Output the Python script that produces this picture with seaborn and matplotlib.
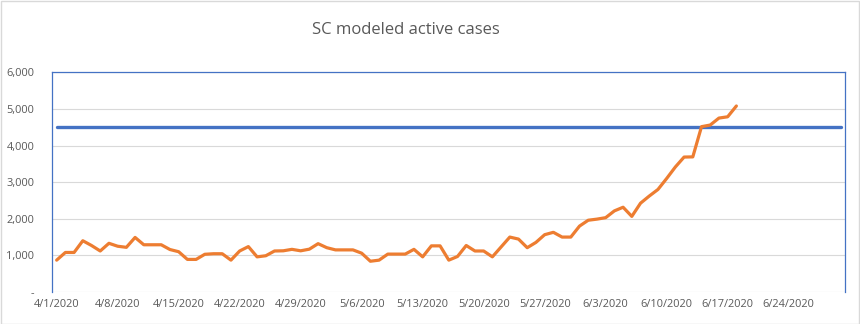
import matplotlib
matplotlib.use("Agg")
import matplotlib.pyplot as plt
from matplotlib.patches import Rectangle
import seaborn as sns
import pandas as pd

# ---- data ----
title = "SC modeled active cases"
start_date = "2020-04-01"
active_cases = [
    870, 1080, 1080, 1400, 1270, 1120, 1330, 1250, 1220, 1490,
    1290, 1290, 1290, 1160, 1100, 890, 890, 1030, 1045, 1045,
    870, 1120, 1240, 960, 990, 1120, 1125, 1165, 1125, 1170,
    1320, 1210, 1150, 1150, 1150, 1060, 840, 870, 1035, 1035,
    1035, 1165, 960, 1260, 1260, 870, 970, 1270, 1120, 1120,
    960, 1230, 1500, 1445, 1210, 1355, 1565, 1630, 1500, 1500,
    1800, 1960, 1990, 2030, 2215, 2315, 2065, 2425, 2620, 2800,
    3100, 3415, 3685, 3690, 4515, 4560, 4750, 4785, 5080,
]
threshold_dates = ["2020-04-01", "2020-06-30"]
threshold_values = [4500, 4500]
y_ticks = [0, 1000, 2000, 3000, 4000, 5000, 6000]
y_tick_labels = ["-", "1,000", "2,000", "3,000", "4,000", "5,000", "6,000"]
x_tick_dates = ["2020-04-01", "2020-04-08", "2020-04-15", "2020-04-22", "2020-04-29",
                "2020-05-06", "2020-05-13", "2020-05-20", "2020-05-27", "2020-06-03",
                "2020-06-10", "2020-06-17", "2020-06-24"]

cases_df = pd.DataFrame({
    "date": pd.date_range(start_date, periods=len(active_cases), freq="D"),
    "cases": active_cases,
})
thr_df = pd.DataFrame({"date": pd.to_datetime(threshold_dates), "cases": threshold_values})

sns.set_style("white")
plt.rcParams["font.family"] = ["Open Sans", "DejaVu Sans"]

fig = plt.figure(figsize=(8.6, 3.24), dpi=100)
ax = fig.add_axes([52.3 / 860, 1 - 292 / 324, (845.3 - 52.3) / 860, (292 - 72.3) / 324])

sns.lineplot(data=thr_df, x="date", y="cases", ax=ax, color="#4472C4", linewidth=2.4)
sns.lineplot(data=cases_df, x="date", y="cases", ax=ax, color="#ED7D31", linewidth=2.3)

ax.set_xlim(pd.Timestamp("2020-03-31 12:00"), pd.Timestamp("2020-06-30 12:00"))
ax.set_ylim(0, 6000)
ax.set_yticks(y_ticks)
ax.set_yticklabels(y_tick_labels)
xt = pd.to_datetime(x_tick_dates)
ax.set_xticks(xt)
ax.set_xticklabels([f"{d.month}/{d.day}/{d.year}" for d in xt])
ax.set_xlabel("")
ax.set_ylabel("")

ax.grid(axis="y", color="#D9D9D9", linewidth=0.8)
ax.grid(axis="x", visible=False)
ax.set_axisbelow(True)
ax.tick_params(axis="both", length=0, labelsize=7.9, colors="#595959")
ax.tick_params(axis="y", pad=13)
ax.tick_params(axis="x", pad=5)

for side in ["left", "top", "right"]:
    ax.spines[side].set_visible(True)
    ax.spines[side].set_color("#4472C4")
    ax.spines[side].set_linewidth(0.9)
ax.spines["bottom"].set_visible(False)

fig.text(405.8 / 860, 1 - 29.5 / 324, title, ha="center", va="center",
         fontsize=12, color="#595959")

fig.patches.append(Rectangle((0.5 / 860, 0.5 / 324), 858.5 / 860, 322.5 / 324,
                             transform=fig.transFigure, fill=False,
                             edgecolor="#D9D9D9", linewidth=1.0))

fig.savefig("out.png", dpi=100)
